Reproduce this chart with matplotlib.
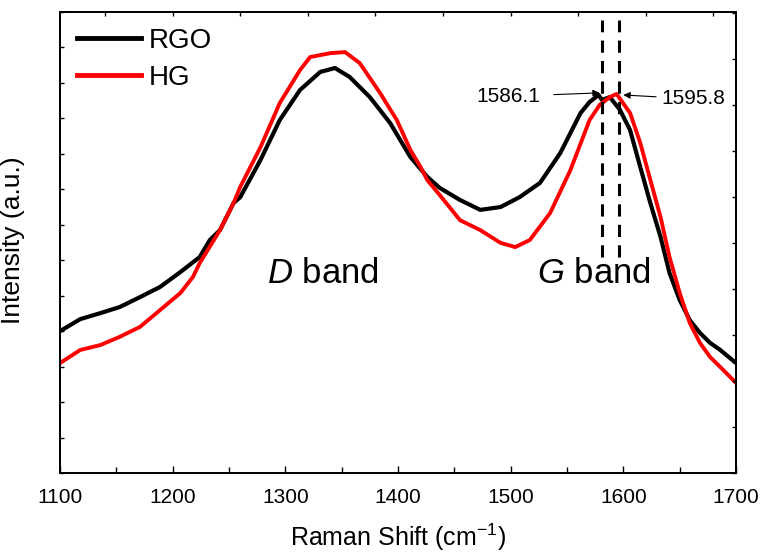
import numpy as np
import matplotlib
matplotlib.use("Agg")
import matplotlib.pyplot as plt
from matplotlib.ticker import MultipleLocator, NullFormatter

# fonts: Arial-like everywhere, also inside mathtext
plt.rcParams['font.family'] = ['Liberation Sans', 'DejaVu Sans']
plt.rcParams['mathtext.fontset'] = 'custom'
plt.rcParams['mathtext.rm'] = 'Liberation Sans'
plt.rcParams['mathtext.it'] = 'Liberation Sans:italic'

# Raman spectra (arbitrary intensity units)
rgo_shift = [1100, 1118, 1136, 1153, 1171, 1189, 1207, 1224, 1233, 1242, 1254, 1260,
             1278, 1295, 1313, 1331, 1344, 1357, 1375, 1393, 1411, 1426, 1437, 1455,
             1473, 1491, 1508, 1526, 1544, 1562, 1570, 1578, 1581, 1588, 1597, 1606,
             1615, 1624, 1633, 1641, 1650, 1659, 1668, 1677, 1686, 1700]
rgo_int = [4.00, 4.34, 4.51, 4.68, 4.96, 5.25, 5.67, 6.09, 6.57, 6.85, 7.61, 7.78,
           8.83, 9.95, 10.80, 11.31, 11.42, 11.17, 10.60, 9.87, 8.91, 8.35, 8.04, 7.70,
           7.42, 7.50, 7.78, 8.18, 9.02, 10.15, 10.46, 10.66, 10.52, 10.60, 10.24, 9.67,
           8.63, 7.61, 6.66, 5.64, 4.88, 4.31, 3.95, 3.67, 3.47, 3.10]

hg_shift = [1100, 1118, 1136, 1153, 1171, 1189, 1207, 1218, 1224, 1242, 1254, 1260,
            1278, 1295, 1313, 1322, 1340, 1353, 1366, 1384, 1399, 1411, 1420, 1426,
            1437, 1455, 1473, 1491, 1504, 1517, 1535, 1553, 1570, 1579, 1588, 1594,
            1606, 1615, 1624, 1633, 1641, 1650, 1659, 1668, 1677, 1686, 1700]
hg_int = [3.10, 3.47, 3.61, 3.84, 4.12, 4.60, 5.08, 5.53, 5.92, 6.85, 7.61, 8.07,
          9.19, 10.43, 11.36, 11.73, 11.84, 11.87, 11.56, 10.72, 9.95, 9.11, 8.63, 8.26,
          7.84, 7.13, 6.85, 6.49, 6.37, 6.57, 7.33, 8.54, 9.95, 10.38, 10.60, 10.69,
          10.15, 9.31, 8.26, 7.22, 6.09, 5.08, 4.23, 3.67, 3.27, 2.99, 2.54]

peak_lines = [1581, 1596]
peak_labels = ["1586.1", "1595.8"]
x_ticks = [1100, 1200, 1300, 1400, 1500, 1600, 1700]

fig = plt.figure(figsize=(7.62, 5.55), dpi=100)
ax = fig.add_axes([60/762, 1-473/555, 676/762, 461/555])

ax.plot(rgo_shift, rgo_int, color='black', lw=3, label='RGO', zorder=3)
ax.plot(hg_shift, hg_int, color='#ff0000', lw=2.8, label='HG', zorder=4)

# dashed markers at the G peaks
for xp in peak_lines:
    ax.plot([xp, xp], [6.09, 12.77], color='black', lw=2.2,
            linestyle=(0, (4, 2.7)), zorder=5)

ax.annotate(peak_labels[0], xy=(1579, 10.72), xytext=(1526, 10.62),
            ha='right', va='center', fontsize=15,
            arrowprops=dict(arrowstyle='-|>', color='black', lw=0.8,
                            mutation_scale=10, shrinkA=8, shrinkB=0))
ax.annotate(peak_labels[1], xy=(1600, 10.66), xytext=(1634, 10.55),
            ha='left', va='center', fontsize=15,
            arrowprops=dict(arrowstyle='-|>', color='black', lw=0.8,
                            mutation_scale=10, shrinkA=2, shrinkB=0))

ax.text(1284, 5.62, r'$\mathit{D}$ band', fontsize=25, va='center', ha='left')
ax.text(1523, 5.62, r'$\mathit{G}$ band', fontsize=25, va='center', ha='left')

ax.set_xlim(1100, 1700)
ax.set_ylim(0, 13)
ax.set_xticks(x_ticks)
ax.xaxis.set_minor_locator(MultipleLocator(50))
ax.yaxis.set_major_locator(MultipleLocator(1))
ax.yaxis.set_major_formatter(NullFormatter())
ax.tick_params(axis='x', which='major', direction='in', length=5, width=1,
               labelsize=15, pad=11)
ax.tick_params(axis='x', which='minor', direction='in', length=4, width=1)
ax.tick_params(axis='y', direction='in', length=3, width=1)
for s in ax.spines.values():
    s.set_linewidth(1.2)

ax.set_xlabel('Raman Shift (cm$^{-1}$)', fontsize=18)
ax.xaxis.set_label_coords(0.5, -0.105)
ax.set_ylabel('Intensity (a.u.)', fontsize=19)
ax.yaxis.set_label_coords(-0.052, 0.505)

# extra unlabeled ticks on right and top, as in the original
axr = ax.twinx()
axr.set_ylim(0, 461/46)
axr.yaxis.set_major_locator(MultipleLocator(1))
axr.yaxis.set_major_formatter(NullFormatter())
axr.tick_params(axis='y', direction='in', length=3, width=1)
axt = ax.twiny()
axt.set_xlim(1100, 1700)
axt.xaxis.set_major_locator(MultipleLocator(60))
axt.xaxis.set_major_formatter(NullFormatter())
axt.tick_params(axis='x', direction='in', length=3, width=1)
for a in (axr, axt):
    for s in a.spines.values():
        s.set_linewidth(1.2)

leg = ax.legend(loc='upper left', bbox_to_anchor=(17/676, 0.966), frameon=False,
                fontsize=20, handlelength=2.3, handletextpad=0.3,
                labelspacing=0.4, borderpad=0, borderaxespad=0)
for line in leg.get_lines():
    line.set_linewidth(3.5)

fig.savefig('out.png', dpi=100)
